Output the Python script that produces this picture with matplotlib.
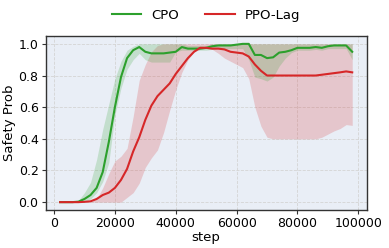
import matplotlib
matplotlib.use("Agg")
import matplotlib.pyplot as plt
import numpy as np

steps = list(range(2000, 100000, 2000))

cpo_mean = [0, 0, 0, 0.003, 0.02, 0.045, 0.09, 0.19, 0.38, 0.60, 0.79, 0.91, 0.96, 0.98,
            0.95, 0.94, 0.94, 0.94, 0.945, 0.95, 0.98, 0.97, 0.97, 0.97, 0.975, 0.985,
            0.99, 0.99, 0.99, 0.995, 1.0, 1.0, 0.93, 0.93, 0.91, 0.915, 0.945, 0.95,
            0.96, 0.975, 0.975, 0.975, 0.98, 0.975, 0.985, 0.99, 0.99, 0.99, 0.95]
cpo_low = [0, 0, 0, 0, 0, 0.02, 0.06, 0.13, 0.25, 0.55, 0.72, 0.84, 0.90, 0.94,
           0.90, 0.885, 0.885, 0.885, 0.885, 0.95, 0.96, 0.96, 0.96, 0.96, 0.96, 0.965,
           0.97, 0.97, 0.97, 0.97, 0.97, 0.90, 0.79, 0.78, 0.765, 0.79, 0.86, 0.91,
           0.945, 0.96, 0.96, 0.96, 0.965, 0.96, 0.97, 0.97, 0.97, 0.97, 0.90]
cpo_high = [0, 0, 0, 0.01, 0.06, 0.125, 0.27, 0.46, 0.62, 0.78, 0.89, 0.96, 0.985, 1.0,
            1.0, 1.0, 1.0, 1.0, 1.0, 1.0, 1.0, 0.99, 0.99, 0.99, 0.99, 1.0,
            1.0, 1.0, 1.0, 1.0, 1.0, 1.0, 1.0, 1.0, 1.0, 1.0, 1.0, 1.0,
            1.0, 1.0, 1.0, 1.0, 1.0, 1.0, 1.0, 1.0, 1.0, 1.0, 1.0]

ppo_mean = [0, 0, 0, 0, 0.002, 0.005, 0.02, 0.045, 0.06, 0.09, 0.14, 0.21, 0.32, 0.41,
            0.52, 0.61, 0.67, 0.71, 0.75, 0.81, 0.86, 0.91, 0.95, 0.975, 0.975, 0.97,
            0.97, 0.965, 0.95, 0.945, 0.94, 0.92, 0.87, 0.83, 0.80, 0.80, 0.80, 0.80,
            0.80, 0.80, 0.80, 0.80, 0.80, 0.805, 0.81, 0.815, 0.82, 0.826, 0.82]
ppo_low = [0, 0, 0, 0, 0, 0, 0, 0, 0, 0, 0, 0.03, 0.06, 0.12,
           0.22, 0.28, 0.33, 0.44, 0.58, 0.71, 0.82, 0.90, 0.95, 0.965, 0.97, 0.965,
           0.94, 0.91, 0.89, 0.87, 0.85, 0.78, 0.60, 0.48, 0.41, 0.40, 0.40, 0.40,
           0.40, 0.40, 0.40, 0.40, 0.40, 0.41, 0.43, 0.45, 0.465, 0.49, 0.485]
ppo_high = [0, 0, 0, 0, 0, 0, 0.02, 0.09, 0.18, 0.26, 0.29, 0.34, 0.54, 0.77,
            0.87, 0.95, 0.99, 1.0, 1.0, 1.0, 1.0, 1.0, 1.0, 1.0, 1.0, 1.0,
            1.0, 1.0, 1.0, 1.0, 1.0, 1.0, 1.0, 1.0, 1.0, 1.0, 1.0, 1.0,
            1.0, 1.0, 1.0, 1.0, 1.0, 1.0, 1.0, 1.0, 1.0, 1.0, 1.0]

xticks = [0, 20000, 40000, 60000, 80000, 100000]
yticks = [0.0, 0.2, 0.4, 0.6, 0.8, 1.0]

fig = plt.figure(figsize=(3.89, 2.48), dpi=100)
ax = fig.add_axes([0.117, 0.153, 0.826, 0.702])
ax.set_facecolor("#e9eef6")

green = "#2ca02c"
red = "#d62728"
ax.fill_between(steps, ppo_low, ppo_high, color=red, alpha=0.2, linewidth=0)
ax.fill_between(steps, cpo_low, cpo_high, color=green, alpha=0.2, linewidth=0)
ax.plot(steps, cpo_mean, color=green, lw=1.5, label="CPO")
ax.plot(steps, ppo_mean, color=red, lw=1.5, label="PPO-Lag")

ax.set_xlim(-2800, 102800)
ax.set_ylim(-0.05, 1.05)
ax.set_xticks(xticks)
ax.set_yticks(yticks)
ax.set_yticklabels([f"{v:.1f}" for v in yticks])
ax.grid(True, color="#d4d4d4", linestyle="--", linewidth=0.6)
ax.set_axisbelow(True)
for s in ax.spines.values():
    s.set_color("#333333")
    s.set_linewidth(1.0)
ax.tick_params(labelsize=9, length=3, color="#333333", pad=2)
ax.set_xlabel("step", fontsize=9.5, labelpad=1)
ax.set_ylabel("Safety Prob", fontsize=9.5, labelpad=2)
ax.legend(loc="lower center", bbox_to_anchor=(0.5, 1.03), ncol=2, frameon=False,
          fontsize=9.5, handlelength=2.2, columnspacing=2.0, borderaxespad=0.3)

fig.savefig("out.png", dpi=100)
